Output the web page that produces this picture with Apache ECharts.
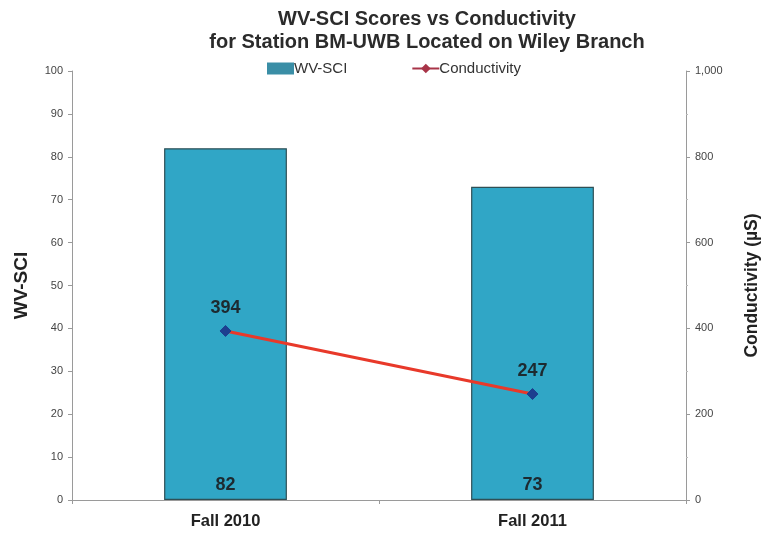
<!DOCTYPE html>
<html>
<head>
<meta charset="utf-8">
<script src="https://cdn.jsdelivr.net/npm/echarts@6/dist/echarts.min.js"></script>
<style>
  html, body { margin: 0; padding: 0; background: #fff; }
  #chart { width: 762px; height: 535px; }
</style>
</head>
<body>
<div id="chart"></div>
<script>
// Sampling seasons for station BM-UWB
const seasons = ['Fall 2010', 'Fall 2011'];
// WV-SCI benthic index scores
const wvsciScores = [82, 73];
// Specific conductivity (µS)
const conductivity = [394, 247];

const chart = echarts.init(document.getElementById('chart'));
const axisGrey = '#9a9a9a';
const FONT = 'Liberation Sans, Arial, sans-serif';

chart.setOption({
  backgroundColor: '#ffffff',
  animation: false,
  title: {
    text: 'WV-SCI Scores vs Conductivity\nfor Station BM-UWB Located on Wiley Branch',
    left: 422,
    textAlign: 'center',
    top: 3,
    textStyle: {
      fontFamily: FONT,
      fontWeight: 'bold',
      fontSize: 20,
      lineHeight: 23,
      color: '#2b2b2b'
    }
  },
  legend: {
    top: 56,
    left: 262,
    itemGap: 64,
    itemWidth: 27,
    itemHeight: 12,
    textStyle: {
      fontFamily: FONT,
      fontSize: 15,
      color: '#333',
      padding: [0, 0, 0, -5]
    },
    data: [
      { name: 'WV-SCI', icon: 'rect', itemStyle: { color: '#3a8ea6', borderWidth: 0 } },
      { name: 'Conductivity', itemStyle: { color: '#a83448' }, lineStyle: { color: '#a83448' } }
    ]
  },
  grid: { left: 72, right: 76, top: 71, bottom: 35, outerBoundsMode: 'none', containLabel: false },
  xAxis: {
    type: 'category',
    data: seasons,
    axisLine: { lineStyle: { color: axisGrey } },
    axisTick: { show: true, alignWithLabel: false, length: 4, lineStyle: { color: axisGrey } },
    axisLabel: {
      fontFamily: FONT,
      fontWeight: 'bold',
      fontSize: 16.5,
      color: '#222',
      margin: 13
    }
  },
  yAxis: [
    {
      type: 'value',
      min: 0,
      max: 100,
      interval: 10,
      name: 'WV-SCI',
      nameLocation: 'middle',
      nameGap: 41,
      nameTextStyle: {
        fontFamily: FONT,
        fontWeight: 'bold',
        fontSize: 19,
        color: '#222'
      },
      axisLine: { show: true, lineStyle: { color: axisGrey } },
      axisTick: { show: true, inside: false, length: 4, lineStyle: { color: axisGrey } },
      splitLine: { show: false },
      axisLabel: {
        fontFamily: FONT,
        fontSize: 11,
        color: '#444',
        margin: 9
      }
    },
    {
      type: 'value',
      min: 0,
      max: 1000,
      interval: 200,
      position: 'right',
      name: 'Conductivity (µS)',
      nameLocation: 'middle',
      nameGap: 57,
      nameRotate: 90,
      nameTextStyle: {
        fontFamily: FONT,
        fontWeight: 'bold',
        fontSize: 17.5,
        color: '#222'
      },
      axisLine: { show: true, lineStyle: { color: axisGrey } },
      axisTick: { show: true, length: 4, lineStyle: { color: axisGrey } },
      minorTick: { show: true, splitNumber: 2, length: 2, lineStyle: { color: '#bbb' } },
      splitLine: { show: false },
      axisLabel: {
        fontFamily: FONT,
        fontSize: 11,
        color: '#444',
        margin: 9,
        formatter: v => v.toLocaleString('en-US')
      }
    }
  ],
  series: [
    {
      name: 'WV-SCI',
      type: 'bar',
      data: wvsciScores,
      barWidth: '40%',
      itemStyle: { color: '#30a6c6', borderColor: '#2f4f55', borderWidth: 1.2 },
      label: {
        show: true,
        position: 'insideBottom',
        distance: 6,
        fontFamily: FONT,
        fontWeight: 'bold',
        fontSize: 18,
        color: '#1d2a30'
      }
    },
    {
      name: 'Conductivity',
      type: 'line',
      yAxisIndex: 1,
      data: conductivity,
      symbol: 'diamond',
      symbolSize: 11,
      lineStyle: { color: '#e8392a', width: 3 },
      itemStyle: { color: '#1d3f8f', borderColor: '#1d3f8f' },
      label: {
        show: true,
        position: 'top',
        distance: 8,
        fontFamily: FONT,
        fontWeight: 'bold',
        fontSize: 18,
        color: '#1d2a30'
      }
    }
  ]
});
</script>
</body>
</html>
